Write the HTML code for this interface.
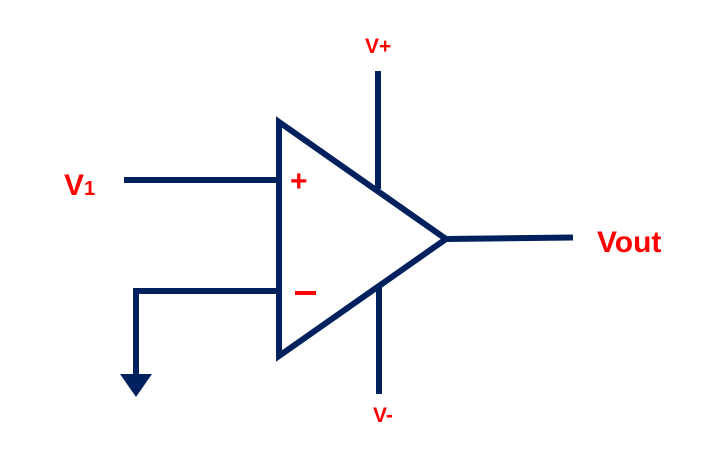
<!DOCTYPE html>
<html><head><meta charset="utf-8"><style>
html,body{margin:0;padding:0;background:#fff;width:718px;height:451px;overflow:hidden}
svg{display:block}
text{font-family:"Liberation Sans",sans-serif;font-weight:bold;fill:#ff0000}
</style></head><body>
<svg width="718" height="451" viewBox="0 0 718 451">
<g stroke="#00215e" stroke-width="6" fill="none">
<polygon points="279,122 279,356 446,239" stroke-linejoin="miter"/>
<line x1="124" y1="180" x2="279" y2="180"/>
<polyline points="279,291 136,291 136,378"/>
<line x1="378" y1="71" x2="378" y2="189"/>
<line x1="379" y1="287" x2="379" y2="394"/>
<line x1="446" y1="239" x2="573" y2="237.5"/>
</g>
<polygon points="120,374 152,374 136,397" fill="#00215e"/>
<text x="64" y="195" font-size="30">V<tspan font-size="20">1</tspan></text>
<text x="290" y="191" font-size="30">+</text>
<rect x="295" y="291" width="21" height="4" fill="#ff0000"/>
<text x="365" y="53" font-size="21">V+</text>
<text x="373" y="422" font-size="21">V-</text>
<text x="597" y="252" font-size="30">Vout</text>
</svg>
</body></html>
